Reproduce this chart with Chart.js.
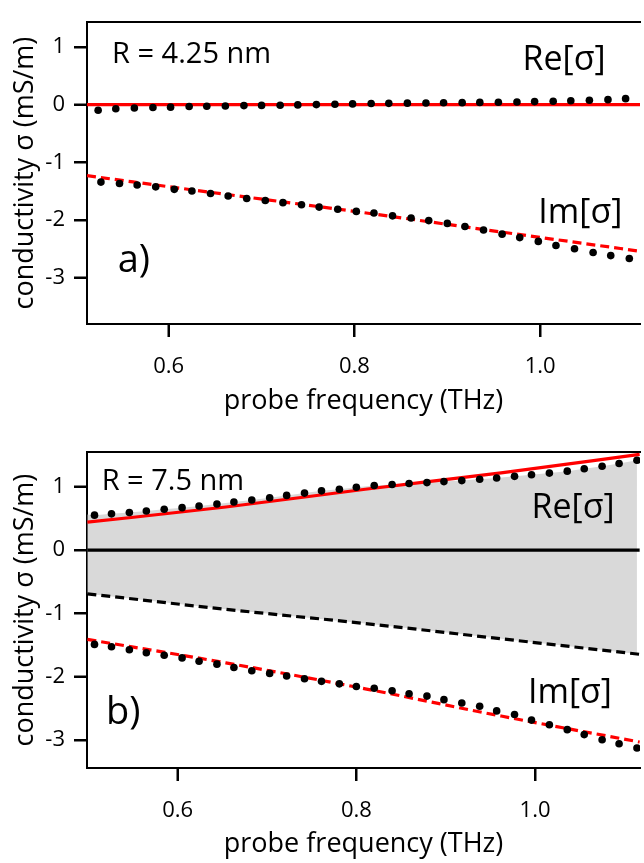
<!DOCTYPE html>
<html>
<head>
<meta charset="utf-8">
<script src="https://cdn.jsdelivr.net/npm/chart.js@4.4.1/dist/chart.umd.min.js"></script>
<style>
  html, body { margin: 0; padding: 0; background: #fff; overflow: hidden; }
  .panel { position: absolute; left: 0; width: 644px; }
  #panelA { top: 0; height: 420px; }
  #panelB { top: 430px; height: 433px; }
  .lbl { position: absolute; white-space: nowrap; line-height: 1; color: #000;
         font-family: 'Open Sans', sans-serif; pointer-events: none; }
  .tick { position: absolute; background: #000; pointer-events: none; }
</style>
</head>
<body>
<div class="panel" id="panelA"><canvas id="chartA"></canvas></div>
<div class="panel" id="panelB"><canvas id="chartB"></canvas></div>
<script>
// ---- panel a) R = 4.25 nm ----
const freqA_re = [0.524, 0.543, 0.563, 0.583, 0.602, 0.622, 0.641, 0.661, 0.681, 0.700,
                  0.720, 0.739, 0.759, 0.779, 0.798, 0.818, 0.837, 0.857, 0.877, 0.896,
                  0.916, 0.935, 0.955, 0.975, 0.994, 1.014, 1.033, 1.053, 1.073, 1.092];
const reA = [-0.095, -0.07, -0.058, -0.048, -0.042, -0.032, -0.026, -0.021, -0.015, -0.012,
             -0.008, -0.003, 0.002, 0.008, 0.014, 0.02, 0.024, 0.027, 0.03, 0.033,
             0.036, 0.04, 0.044, 0.048, 0.054, 0.06, 0.068, 0.077, 0.088, 0.105];
const freqA_im = [0.527, 0.547, 0.566, 0.586, 0.606, 0.625, 0.645, 0.664, 0.684, 0.704,
                  0.723, 0.743, 0.762, 0.782, 0.802, 0.821, 0.841, 0.861, 0.880, 0.900,
                  0.919, 0.939, 0.959, 0.978, 0.998, 1.017, 1.037, 1.057, 1.076, 1.096];
const imA = [-1.341, -1.364, -1.390, -1.423, -1.467, -1.496, -1.538, -1.582, -1.626, -1.659,
             -1.697, -1.734, -1.774, -1.811, -1.849, -1.877, -1.926, -1.964, -2.008, -2.057,
             -2.111, -2.172, -2.243, -2.303, -2.369, -2.439, -2.495, -2.561, -2.615, -2.664];
const fitFreqA = [0.512, 0.66, 0.81, 0.96, 1.108];
const fitReA = [0, 0, 0, 0, 0];
const fitImA = [-1.23, -1.55, -1.87, -2.21, -2.54];

// ---- panel b) R = 7.5 nm ----
const freqB = [0.507, 0.526, 0.546, 0.565, 0.585, 0.605, 0.624, 0.644, 0.663, 0.683,
               0.703, 0.722, 0.742, 0.761, 0.781, 0.800, 0.820, 0.840, 0.859, 0.879,
               0.898, 0.918, 0.938, 0.957, 0.977, 0.996, 1.016, 1.036, 1.055, 1.075,
               1.094, 1.114];
const reB = [0.551, 0.572, 0.592, 0.618, 0.645, 0.670, 0.696, 0.727, 0.759, 0.790,
             0.826, 0.863, 0.899, 0.935, 0.961, 0.992, 1.019, 1.034, 1.050, 1.065,
             1.081, 1.097, 1.117, 1.137, 1.164, 1.190, 1.215, 1.246, 1.283, 1.324,
             1.366, 1.417];
const imB = [-1.489, -1.526, -1.573, -1.620, -1.660, -1.702, -1.754, -1.801, -1.854, -1.905,
             -1.947, -1.988, -2.030, -2.072, -2.112, -2.154, -2.181, -2.221, -2.268, -2.305,
             -2.361, -2.414, -2.466, -2.539, -2.595, -2.684, -2.757, -2.835, -2.913, -2.995,
             -3.058, -3.125];
const fitFreqB = [0.499, 0.654, 0.81, 0.962, 1.117];
const fitReB = [0.44, 0.68, 0.96, 1.22, 1.51];
const fitImB = [-1.41, -1.78, -2.19, -2.62, -3.03];
const lowerB = [-0.69, -0.935, -1.16, -1.40, -1.645];   // black dashed curve
const zeroB = [0, 0, 0, 0, 0];
// left end of the shaded band (it starts at the frame edge)
const bandStartFreqB = 0.499;
const bandStartB = 0.56;

const xTicks = [0.6, 0.8, 1.0];
const yTicks = [1, 0, -1, -2, -3];

const FONT = "'Open Sans', sans-serif";
Chart.defaults.font.family = FONT;
Chart.defaults.color = '#000';

function pts(xs, ys) {
  return xs.map(function (x, i) { return { x: x, y: ys[i] }; });
}

function dots(xs, ys) {
  return { data: pts(xs, ys), showLine: false, pointRadius: 3.8, pointBackgroundColor: '#000', pointBorderWidth: 0 };
}

function curve(xs, ys, color, dashed) {
  return { data: pts(xs, ys), showLine: true, pointRadius: 0, borderColor: color,
           borderWidth: 3.2, borderDash: dashed ? [9, 5] : [], cubicInterpolationMode: 'monotone', fill: false };
}

function axisOptions(range, axisHeight) {
  return {
    x: {
      type: 'linear', min: range.xmin, max: range.xmax,
      afterFit: function (s) { s.height = axisHeight; },
      afterBuildTicks: function (s) { s.ticks = xTicks.map(function (v) { return { value: v }; }); },
      ticks: { padding: 17, font: { size: 22 }, color: '#000', callback: function (v) { return v.toFixed(1); } },
      grid: { drawOnChartArea: false, drawTicks: true, tickLength: 13, tickWidth: 2, tickColor: '#000' },
      border: { display: true, color: '#000', width: 2 },
      title: { display: true, text: 'probe frequency (THz)', font: { size: 27 }, color: '#000', padding: { top: 0, bottom: 2 } }
    },
    // only gives the top edge of the frame
    xTop: {
      type: 'linear', position: 'top', min: range.xmin, max: range.xmax,
      afterFit: function (s) { s.height = 0; },
      ticks: { display: false },
      grid: { display: false, drawTicks: false },
      border: { display: true, color: '#000', width: 2 }
    },
    y: {
      type: 'linear', min: range.ymin, max: range.ymax,
      afterFit: function (s) { s.width = 87; },
      afterBuildTicks: function (s) { s.ticks = yTicks.map(function (v) { return { value: v }; }); },
      ticks: { padding: 9, font: { size: 22 }, color: '#000', callback: function (v) { return String(v); } },
      grid: { drawOnChartArea: false, drawTicks: true, tickLength: 13, tickWidth: 2, tickColor: '#000' },
      border: { display: true, color: '#000', width: 2 },
      title: { display: true, text: 'conductivity σ (mS/m)', font: { size: 27 }, color: '#000', padding: { top: 9, bottom: 0 } }
    }
  };
}

function baseOptions(range, axisHeight, topPad) {
  return {
    responsive: true,
    maintainAspectRatio: false,
    animation: false,
    layout: { padding: { top: topPad } },
    scales: axisOptions(range, axisHeight),
    plugins: {
      legend: { display: false },
      tooltip: { enabled: false }
    }
  };
}

// text labels placed through the chart's scales (x, y = left end of baseline)
function addLabels(chart, panelId, items) {
  const panel = document.getElementById(panelId);
  items.forEach(function (it) {
    const d = document.createElement('div');
    d.className = 'lbl';
    d.textContent = it.text;
    d.style.fontSize = it.size + 'px';
    d.style.left = chart.scales.x.getPixelForValue(it.x) + 'px';
    d.style.top = (chart.scales.y.getPixelForValue(it.y) - 0.888 * it.size) + 'px';
    panel.appendChild(d);
  });
}

// outward tick marks at the scales' tick positions
function addTickMarks(chart, panelId) {
  const panel = document.getElementById(panelId);
  const a = chart.chartArea;
  const len = 13;
  function mark(left, top, w, h) {
    const d = document.createElement('div');
    d.className = 'tick';
    d.style.left = left + 'px';
    d.style.top = top + 'px';
    d.style.width = w + 'px';
    d.style.height = h + 'px';
    panel.appendChild(d);
  }
  chart.scales.x.ticks.forEach(function (t) {
    const px = Math.round(chart.scales.x.getPixelForValue(t.value));
    mark(px - 1, Math.round(a.bottom), 2, len);
  });
  chart.scales.y.ticks.forEach(function (t) {
    const py = Math.round(chart.scales.y.getPixelForValue(t.value));
    mark(Math.round(a.left) - len, py - 1, len, 2);
  });
}

const chartA = new Chart(document.getElementById('chartA'), {
  type: 'scatter',
  data: {
    datasets: [
      dots(freqA_re, reA),
      dots(freqA_im, imA),
      curve(fitFreqA, fitReA, '#ff0000', false),
      curve(fitFreqA, fitImA, '#ff0000', true)
    ]
  },
  options: baseOptions({ xmin: 0.512, xmax: 1.1075, ymin: -3.80, ymax: 1.43 }, 96, 5)
});
addTickMarks(chartA, 'panelA');
addLabels(chartA, 'panelA', [
  { text: 'R = 4.25 nm', x: 0.539, y: 0.73, size: 29 },
  { text: 'Re[σ]', x: 0.981, y: 0.60, size: 34 },
  { text: 'Im[σ]', x: 0.998, y: -2.057, size: 34 },
  { text: 'a)', x: 0.545, y: -2.89, size: 38 }
]);

const bandData = [{ x: bandStartFreqB, y: bandStartB }].concat(pts(freqB, reB));

const chartB = new Chart(document.getElementById('chartB'), {
  type: 'scatter',
  data: {
    datasets: [
      dots(freqB, reB),
      dots(freqB, imB),
      curve(fitFreqB, fitReB, '#ff0000', false),
      curve(fitFreqB, fitImB, '#ff0000', true),
      curve(fitFreqB, lowerB, '#000', true),
      curve(fitFreqB, zeroB, '#000', false),
      // shaded band between Re[σ] data and the black dashed curve
      { data: bandData, showLine: true, pointRadius: 0, borderWidth: 0,
        borderColor: 'rgba(0,0,0,0)', backgroundColor: 'rgb(217,217,217)', fill: 4 }
    ]
  },
  options: baseOptions({ xmin: 0.4986, xmax: 1.1174, ymin: -3.44, ymax: 1.545 }, 95, 18)
});
addTickMarks(chartB, 'panelB');
addLabels(chartB, 'panelB', [
  { text: 'R = 7.5 nm', x: 0.515, y: 0.945, size: 29 },
  { text: 'Re[σ]', x: 0.996, y: 0.51, size: 34 },
  { text: 'Im[σ]', x: 0.992, y: -2.424, size: 34 },
  { text: 'b)', x: 0.520, y: -2.735, size: 38 }
]);
</script>
</body>
</html>
